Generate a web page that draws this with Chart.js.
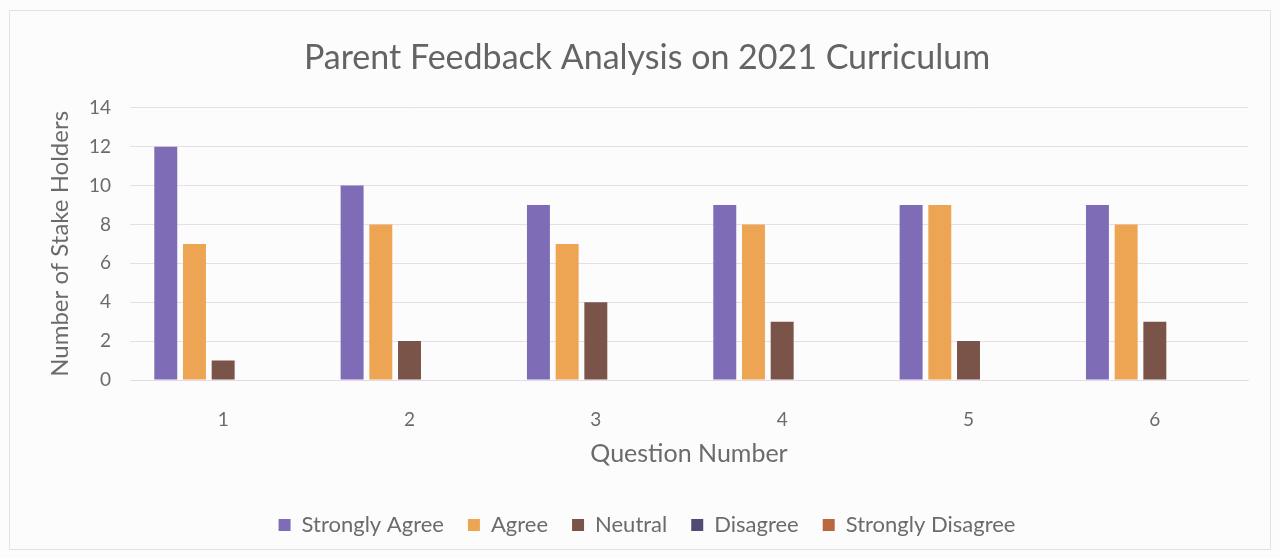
<!DOCTYPE html>
<html>
<head>
<meta charset="utf-8">
<script src="https://cdn.jsdelivr.net/npm/chart.js@4.4.0/dist/chart.umd.min.js"></script>
<style>
  html, body { margin: 0; padding: 0; background: #fdfcfd; }
  #wrap { position: relative; width: 1280px; height: 558px; }
  #frame { position: absolute; left: 9px; top: 10px; width: 1262px; height: 540px; border: 1px solid #eadfe8; box-sizing: border-box; }
</style>
</head>
<body>
<div id="wrap">
  <div id="frame"></div>
  <canvas id="feedbackChart" width="1280" height="558"></canvas>
</div>
<script>
// question numbers on the x axis
const questions = ['1', '2', '3', '4', '5', '6'];

// responses per question
const stronglyAgree = [12, 10, 9, 9, 9, 9];
const agree = [7, 8, 7, 8, 9, 8];
const neutral = [1, 2, 4, 3, 2, 3];
const disagree = [0, 0, 0, 0, 0, 0];
const stronglyDisagree = [0, 0, 0, 0, 0, 0];

const seriesNames = ['Strongly Agree', 'Agree', 'Neutral', 'Disagree', 'Strongly Disagree'];
const seriesColors = ['#7e6cb6', '#eea553', '#7a5349', '#514b72', '#b9673f'];

const font = "Lato, 'Open Sans', sans-serif";
const textColor = '#6b6b6b';

const ctx = document.getElementById('feedbackChart').getContext('2d');

const datasets = [stronglyAgree, agree, neutral, disagree, stronglyDisagree].map((vals, i) => ({
    label: seriesNames[i],
    data: vals,
    backgroundColor: seriesColors[i],
    borderWidth: 0,
    categoryPercentage: 0.77,
    barPercentage: 0.8
}));

new Chart(ctx, {
    type: 'bar',
    data: { labels: questions, datasets },
    options: {
        responsive: false,
        animation: false,
        layout: { padding: { left: 46, right: 32, top: 0, bottom: 12 } },
        plugins: {
            title: {
                display: true,
                text: 'Parent Feedback Analysis on 2021 Curriculum',
                color: '#646464',
                font: { family: font, size: 34, weight: 'normal' },
                padding: { top: 38, bottom: 29 }
            },
            legend: {
                position: 'bottom',
                labels: {
                    color: textColor,
                    font: { family: font, size: 22 },
                    boxWidth: 12,
                    boxHeight: 12,
                    padding: 24
                }
            },
            tooltip: { enabled: false }
        },
        scales: {
            x: {
                grid: { display: false },
                border: { color: '#e6d9e4' },
                ticks: { color: textColor, font: { family: font, size: 19 }, padding: 20 },
                title: {
                    display: true,
                    text: 'Question Number',
                    color: textColor,
                    font: { family: font, size: 25 },
                    padding: { top: 0, bottom: 21 }
                },
                afterFit: (scale) => { scale.height = 110; }
            },
            y: {
                min: 0,
                max: 14,
                ticks: { stepSize: 2, color: textColor, font: { family: font, size: 19 }, padding: 19 },
                grid: { color: '#ecdbe8', drawTicks: false },
                border: { display: false },
                title: {
                    display: true,
                    text: 'Number of Stake Holders',
                    color: textColor,
                    font: { family: font, size: 24 },
                    padding: 0
                },
                afterFit: (scale) => { scale.width = 84; }
            }
        }
    }
});
</script>
</body>
</html>
